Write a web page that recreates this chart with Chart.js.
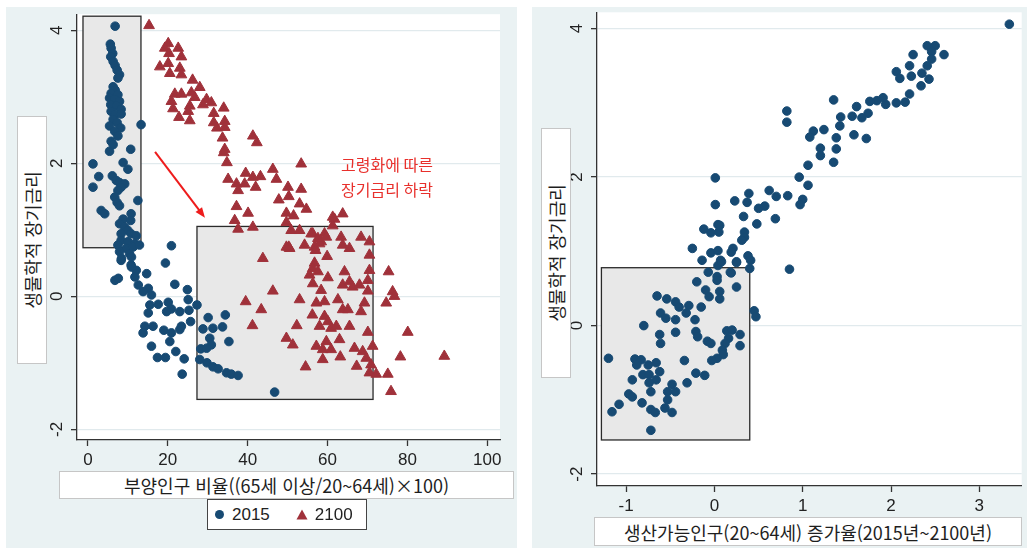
<!DOCTYPE html>
<html lang="ko">
<head>
  <meta charset="UTF-8">
  <title>부양인구 비율 · 생산가능인구 증가율과 생물학적 장기금리</title>
  <script src="https://cdn.jsdelivr.net/npm/chart.js"></script>
  <style>
    body { margin: 0; background: #fff; font-family: "Noto Sans CJK KR", "Noto Sans", sans-serif; }
    .page { position: relative; width: 1027px; height: 550px; overflow: hidden; }
    .panel { position: absolute; top: 7px; }
    .box { position: absolute; box-sizing: border-box; background: #fff; border: 1px solid #c6c6c6; color: #1e1e1e; font-size: 18px; }
    .xtitle { display: flex; align-items: center; justify-content: center; white-space: nowrap; }
    .ytitle span { position: absolute; left: 50%; top: 50%; white-space: nowrap; transform: translate(-50%, -50%) rotate(-90deg); }
    .legend { display: flex; align-items: center; border-color: #444; font-family: "Liberation Sans", Arial, sans-serif; font-size: 17px; color: #222; padding-left: 7px; }
    .legend .dot { width: 9px; height: 9px; border-radius: 50%; margin-right: 8px; }
    .legend .item { display: flex; align-items: center; margin-right: 26px; }
  </style>
</head>
<body>
<div class="page">
  <canvas class="panel" id="leftChart" width="511" height="541" style="left:6px"></canvas>
  <canvas class="panel" id="rightChart" width="495" height="541" style="left:532px"></canvas>

  <div class="box ytitle" style="left:17px; top:116px; width:30px; height:248px"><span>생물학적 장기금리</span></div>
  <div class="box xtitle" style="left:59px; top:471px; width:455px; height:28px">부양인구 비율((65세 이상/20~64세)×100)</div>
  <div class="box legend" id="legend" style="left:207px; top:499px; width:160px; height:31px"></div>

  <div class="box ytitle" style="left:541px; top:128px; width:30px; height:250px"><span>생물학적 장기금리</span></div>
  <div class="box xtitle" style="left:594px; top:517px; width:428px; height:29px">생산가능인구(20~64세) 증가율(2015년~2100년)</div>
</div>

<script>
  // tick labels
  const xTicksLeft = [0, 20, 40, 60, 80, 100];
  const xTicksRight = [-1, 0, 1, 2, 3];
  const yTicks = [-2, 0, 2, 4];
  const legendLabels = ['2015', '2100'];

  // left panel: dependency ratio (x) vs biological long-term rate (y), 2015
  const points2015 = [
    [6.8,4.06],[5.6,3.79],[5.8,3.73],[6.2,3.65],[5.7,3.60],[6.3,3.53],[6.8,3.47],[7.3,3.40],[7.9,3.33],[7.5,3.28],
    [6.3,3.15],[6.8,3.10],[5.8,3.05],[7.5,3.03],[5.4,2.98],[6.7,2.96],[7.9,2.93],[5.7,2.88],[7.1,2.86],[8.3,2.81],
    [5.8,2.78],[6.8,2.73],[8.3,2.74],[6.3,2.66],[7.3,2.61],[5.4,2.56],[8.2,2.53],[6.7,2.48],[7.5,2.41],[5.8,2.33],
    [6.3,2.28],[10.7,2.21],[5.4,2.18],[13.3,2.58],[8.8,2.01],[10,1.91],[1.25,1.99],[2.7,1.80],[1.25,1.64],[6.1,1.81],
    [7.1,1.74],[7.9,1.71],[9.2,1.69],[8.3,1.64],[7.5,1.59],[6.7,1.49],[12.5,1.44],[7.3,1.41],[7.9,1.36],[3.3,1.29],
    [4.2,1.24],[10.8,1.24],[8.8,1.16],[10.7,1.14],[7.9,1.09],[9.2,1.04],[10,0.99],[8.3,0.94],[10.8,0.94],[12.1,0.91],
    [8.3,0.84],[10,0.82],[11.7,0.79],[7.5,0.77],[9.6,0.72],[11.3,0.74],[12.9,0.77],[7.9,0.67],[10.4,0.64],[8.3,0.54],
    [10.8,0.47],[12.1,0.39],[20.9,0.76],[19.4,0.50],[8.4,0.57],[10.9,0.59],[10.9,0.44],[14.7,0.34],[6.75,0.24],[7.6,0.27],
    [11.75,0.29],[12.6,0.17],[15.1,0.12],[21.75,0.18],[13.8,0.07],[15.9,0.02],[24.9,0.10],[25.1,-0.05],[15.5,-0.13],[17.6,-0.12],
    [20.1,-0.09],[20.9,-0.19],[23,-0.23],[25.3,-0.21],[27.3,-0.13],[15.1,-0.25],[19.7,-0.23],[25.7,-0.38],[30.1,-0.32],[34.4,-0.28],
    [14.25,-0.45],[16.3,-0.45],[19,-0.51],[20.9,-0.55],[23,-0.50],[23.4,-0.45],[13.8,-0.55],[28.8,-0.49],[31.3,-0.48],[33.7,-0.46],
    [20.5,-0.68],[30.5,-0.63],[30.9,-0.73],[35.3,-0.68],[15.9,-0.75],[22,-0.83],[28.25,-0.79],[29.7,-0.78],[17.4,-0.92],[19.4,-0.92],
    [24.1,-0.94],[28,-0.95],[29.8,-1.0],[31.3,-1.06],[32.6,-1.09],[34.7,-1.15],[35.9,-1.17],[37.6,-1.19],[23.6,-1.17],[46.75,-1.44]
  ];

  // left panel, 2100
  const points2100 = [
    [15.3,4.07],[20.1,3.80],[19.25,3.73],[22.6,3.73],[20.3,3.65],[23.4,3.60],[20.1,3.50],[18,3.45],[23,3.43],[20.5,3.35],
    [23.4,3.33],[26.2,3.25],[28,3.14],[21.75,3.04],[23.4,3.04],[25.9,3.06],[26.75,2.99],[20.9,2.93],[29.7,2.96],[30.9,2.91],
    [28.8,2.88],[25.5,2.86],[21.3,2.82],[34,2.83],[25.1,2.78],[31.5,2.75],[22.8,2.69],[25.5,2.64],[34.25,2.63],[31.5,2.61],
    [32.3,2.53],[34.25,2.54],[33.7,2.38],[41.3,2.41],[42.3,2.31],[34.25,2.21],[34,2.16],[34.8,2.01],[53.4,1.99],[46.3,1.91],
    [35.1,1.76],[39.5,1.85],[41.3,1.79],[43.2,1.80],[47.2,1.76],[37.2,1.69],[39.25,1.69],[42,1.64],[37.6,1.59],[50.1,1.64],
    [53.4,1.61],[50.3,1.50],[47.8,1.45],[37.2,1.35],[53,1.39],[40.1,1.25],[49.7,1.25],[51.5,1.21],[54.7,1.31],[36.75,1.14],
    [61.3,1.19],[63.8,1.24],[61.75,1.16],[61.3,1.06],[59.25,0.94],[56.3,0.94],[68.4,0.89],[70.5,0.82],[63.4,0.89],[65.5,0.72],
    [58.4,0.82],[54.25,0.77],[50.5,0.72],[41.3,1.04],[37.6,1.01],[50.9,0.99],[53,0.99],[55.9,0.94],[57.6,0.87],[59.7,0.89],
    [50.3,0.74],[56.75,0.74],[58,0.79],[63.8,0.77],[43.8,0.57],[57,0.69],[59.9,0.60],[70.5,0.62],[56.75,0.50],[56.3,0.42],
    [57.6,0.37],[55.5,0.32],[60.1,0.28],[64.25,0.37],[70.5,0.39],[75.3,0.37],[56.3,0.19],[58.4,0.09],[63.8,0.17],[65.5,0.22],
    [66.3,0.14],[68,0.17],[70.1,0.24],[70.1,0.08],[76.3,0.07],[76.75,0.00],[46.3,0.08],[39.5,-0.08],[43.4,-0.20],[53,-0.05],
    [57.2,-0.10],[59.25,-0.08],[62.6,-0.05],[69.25,-0.10],[74.7,-0.10],[63.8,-0.20],[65.1,-0.20],[68.4,-0.23],[56.2,-0.28],[59.25,-0.30],
    [41.2,-0.44],[52.3,-0.44],[58,-0.45],[60.1,-0.38],[60.9,-0.48],[62.2,-0.45],[65.5,-0.45],[70.1,-0.54],[80.1,-0.54],[49.7,-0.63],
    [51.3,-0.73],[57.2,-0.75],[59.7,-0.68],[63,-0.65],[58.8,-0.80],[60.9,-0.80],[66.75,-0.78],[68.8,-0.83],[71.3,-0.75],[69.7,-0.93],
    [58.8,-0.95],[63.2,-0.91],[78.25,-0.91],[89.25,-0.90],[67.3,-1.05],[70.9,-1.03],[54.5,-1.06],[70.5,-1.15],[72.2,-1.17],[75.1,-1.17],
    [75.9,-1.43],[49.7,1.11],[49.7,0.74]
  ];

  // right panel: working-age population growth (x) vs biological long-term rate (y)
  const pointsGrowth = [
    [3.34,4.06],[2.41,3.77],[2.50,3.77],[2.46,3.69],[2.60,3.65],[2.25,3.65],[2.46,3.59],[2.41,3.50],[2.21,3.50],[2.06,3.42],
    [2.10,3.33],[2.23,3.36],[2.35,3.40],[2.43,3.32],[2.34,3.23],[2.21,3.12],[2.16,3.01],[2.06,3.00],[1.94,2.98],[1.91,3.07],
    [1.84,3.03],[1.76,3.02],[1.74,2.86],[1.61,2.95],[1.67,2.80],[1.56,2.82],[1.43,2.81],[1.42,2.69],[1.35,3.04],[1.58,2.57],
    [1.72,2.52],[1.38,2.53],[1.24,2.64],[1.12,2.62],[1.08,2.54],[1.38,2.38],[1.20,2.39],[1.20,2.29],[1.35,2.20],[1.06,2.16],
    [0.96,2.00],[1.06,1.89],[0.82,2.89],[0.82,2.74],[1.00,1.70],[0.97,1.63],[0.83,1.75],[0.70,1.74],[0.62,1.82],[0.57,1.61],
    [0.50,1.58],[0.69,1.44],[0.48,1.37],[0.39,1.78],[0.37,1.66],[0.23,1.68],[0.33,1.47],[0.34,1.26],[0.34,1.19],[0.21,1.04],
    [0.19,0.99],[0.25,0.85],[0.38,0.94],[0.41,0.88],[0.40,0.77],[0.85,0.76],[0.01,1.99],[0.01,1.63],[0.04,1.36],[-0.04,1.25],
    [-0.12,1.30],[-0.25,1.04],[-0.14,0.88],[-0.04,0.98],[0.04,1.01],[0.07,0.88],[0.04,0.81],[-0.07,0.72],[-0.20,0.59],[0.03,0.66],
    [0.19,0.71],[0.05,1.26],[0.06,1.35],[0.31,1.15],[0.08,0.86],[0.25,0.86],[0.18,0.72],[0.03,0.61],[0.25,0.52],[-0.10,0.48],
    [-0.06,0.39],[0.06,0.46],[0.06,0.36],[-0.65,0.40],[-0.54,0.36],[-0.44,0.32],[-0.40,0.25],[-0.29,0.27],[-0.32,0.17],[-0.15,0.25],
    [-0.61,0.17],[-0.55,0.10],[-0.44,0.08],[-0.22,0.08],[0.45,0.20],[0.47,0.12],[-0.80,0.00],[-0.44,-0.09],[-0.21,-0.08],[-0.19,-0.15],
    [-0.08,-0.21],[-0.04,-0.24],[0.14,-0.07],[0.20,-0.06],[0.29,-0.12],[0.16,-0.17],[0.12,-0.24],[0.29,-0.27],[-0.62,-0.12],[-0.61,-0.24],
    [0.09,-0.33],[0.10,-0.39],[0.03,-0.44],[-0.03,-0.47],[-1.20,-0.44],[-0.90,-0.45],[-0.83,-0.46],[-0.88,-0.53],[-0.75,-0.53],[-0.66,-0.50],
    [-0.34,-0.47],[-0.81,-0.66],[-0.74,-0.66],[-0.66,-0.73],[-0.62,-0.62],[-0.93,-0.73],[-0.74,-0.77],[-0.21,-0.64],[-0.11,-0.67],[-0.31,-0.77],
    [-0.48,-0.79],[-0.72,-0.89],[-0.97,-0.92],[-0.93,-0.96],[-0.53,-0.89],[-0.44,-0.89],[-0.53,-1.00],[-0.82,-1.04],[-1.08,-1.06],[-1.16,-1.16],
    [-0.72,-1.13],[-0.67,-1.17],[-0.56,-1.11],[-0.48,-1.17],[-0.72,-1.41]
  ];

  const NAVY = '#174a73';
  const MAROON = '#a0313a';
  const AXIS = '#333333';
  const GRID = '#e1eaed';
  const BG = '#eaf2f3';
  const TICK_FONT = '"Liberation Sans", Arial, sans-serif';

  const toXY = arr => arr.map(([x, y]) => ({ x, y }));

  // panel background, shaded boxes, arrow/notes and rotated y tick labels
  const panelPlugin = {
    id: 'panel',
    beforeDraw(chart) {
      const { ctx, chartArea: a, width, height } = chart;
      ctx.save();
      ctx.fillStyle = BG;
      ctx.fillRect(0, 0, width, height);
      ctx.fillStyle = '#fff';
      ctx.fillRect(a.left, a.top, a.right - a.left, a.bottom - a.top);
      ctx.restore();
    },
    beforeDatasetsDraw(chart, args, opts) {
      const { ctx, scales: { x, y } } = chart;
      (opts.boxes || []).forEach(([x0, x1, y0, y1]) => {
        const l = x.getPixelForValue(x0), r = x.getPixelForValue(x1);
        const t = y.getPixelForValue(y0), b = y.getPixelForValue(y1);
        ctx.save();
        ctx.fillStyle = '#e8e8e8';
        ctx.fillRect(l, t, r - l, b - t);
        ctx.strokeStyle = '#2a2a2a';
        ctx.lineWidth = 1.3;
        ctx.strokeRect(l, t, r - l, b - t);
        ctx.restore();
      });
    },
    afterDatasetsDraw(chart, args, opts) {
      const { ctx, scales: { x, y } } = chart;
      if (opts.arrow) {
        const [[ax0, ay0], [ax1, ay1]] = opts.arrow;
        const sx = x.getPixelForValue(ax0), sy = y.getPixelForValue(ay0);
        const ex = x.getPixelForValue(ax1), ey = y.getPixelForValue(ay1);
        const ang = Math.atan2(ey - sy, ex - sx);
        ctx.save();
        ctx.strokeStyle = '#ee1c1c';
        ctx.fillStyle = '#ee1c1c';
        ctx.lineWidth = 2;
        ctx.beginPath();
        ctx.moveTo(sx, sy);
        ctx.lineTo(ex - 8 * Math.cos(ang), ey - 8 * Math.sin(ang));
        ctx.stroke();
        ctx.beginPath();
        ctx.moveTo(ex, ey);
        ctx.lineTo(ex - 11 * Math.cos(ang - 0.38), ey - 11 * Math.sin(ang - 0.38));
        ctx.lineTo(ex - 11 * Math.cos(ang + 0.38), ey - 11 * Math.sin(ang + 0.38));
        ctx.closePath();
        ctx.fill();
        ctx.restore();
      }
      (opts.notes || []).forEach(n => {
        ctx.save();
        ctx.fillStyle = '#e8302c';
        ctx.font = '16px "Noto Sans CJK KR", sans-serif';
        ctx.textAlign = 'center';
        ctx.textBaseline = 'middle';
        ctx.fillText(n.text, x.getPixelForValue(n.x), y.getPixelForValue(n.y));
        ctx.restore();
      });
    },
    afterDraw(chart, args, opts) {
      const { ctx, scales: { y } } = chart;
      ctx.save();
      ctx.fillStyle = '#222';
      ctx.font = '17px ' + TICK_FONT;
      ctx.textAlign = 'center';
      ctx.textBaseline = 'middle';
      yTicks.forEach(v => {
        ctx.save();
        ctx.translate(opts.yLabelX, y.getPixelForValue(v));
        ctx.rotate(-Math.PI / 2);
        ctx.fillText(String(v), 0, 0);
        ctx.restore();
      });
      ctx.restore();
    }
  };

  function scatterChart(id, datasets, cfg) {
    return new Chart(document.getElementById(id), {
      type: 'scatter',
      data: { datasets },
      options: {
        responsive: false,
        animation: false,
        events: [],
        layout: { padding: cfg.padding },
        plugins: {
          legend: { display: false },
          tooltip: { enabled: false },
          panel: cfg.panel
        },
        scales: {
          x: {
            type: 'linear',
            min: cfg.xMin,
            max: cfg.xMax,
            afterBuildTicks: s => { s.ticks = cfg.xTicks.map(v => ({ value: v })); },
            afterFit: s => { s.height = cfg.xHeight; },
            grid: { drawOnChartArea: false, tickLength: 6, tickColor: AXIS, tickWidth: 1.3 },
            border: { color: AXIS, width: 1.3 },
            ticks: {
              autoSkip: false, maxRotation: 0, minRotation: 0, padding: 4,
              color: '#222', font: { family: TICK_FONT, size: 17 }
            }
          },
          y: {
            type: 'linear',
            min: cfg.yMin,
            max: cfg.yMax,
            afterBuildTicks: s => { s.ticks = yTicks.map(v => ({ value: v })); },
            afterFit: s => { s.width = cfg.yWidth; },
            grid: { color: GRID, lineWidth: 1.3, tickLength: 6, tickColor: AXIS, tickWidth: 1.3 },
            border: { color: AXIS, width: 1.3 },
            ticks: { display: false }
          }
        }
      },
      plugins: [panelPlugin]
    });
  }

  const circleStyle = { pointStyle: 'circle', pointRadius: 4.3, borderWidth: 1, backgroundColor: NAVY, borderColor: NAVY };
  const triangleStyle = { pointStyle: 'triangle', pointRadius: 6.2, borderWidth: 1, backgroundColor: MAROON, borderColor: MAROON };

  scatterChart('leftChart', [
    { label: legendLabels[0], data: toXY(points2015), ...circleStyle },
    { label: legendLabels[1], data: toXY(points2100), ...triangleStyle }
  ], {
    padding: { left: 0, top: 2, right: 17, bottom: 0 },
    xMin: -2.75, xMax: 103.2, yMin: -2.16, yMax: 4.24,
    xTicks: xTicksLeft, xHeight: 108, yWidth: 71,
    panel: {
      yLabelX: 51,
      boxes: [[-1.25, 13.27, 4.21, 0.73], [27.3, 71.4, 1.05, -1.55]],
      arrow: [[16.8, 2.17], [29.3, 1.18]],
      notes: [
        { text: '고령화에 따른', x: 74.9, y: 1.97 },
        { text: '장기금리 하락', x: 74.9, y: 1.60 }
      ]
    }
  });

  scatterChart('rightChart', [
    { label: '', data: toXY(pointsGrowth), ...circleStyle }
  ], {
    padding: { left: 0, top: 2, right: 0, bottom: 0 },
    xMin: -1.33, xMax: 3.48, yMin: -2.16, yMax: 4.22,
    xTicks: xTicksRight, xHeight: 62, yWidth: 65,
    panel: {
      yLabelX: 45,
      boxes: [[-1.28, 0.40, 0.78, -1.54]]
    }
  });

  // legend under the left panel
  const legend = document.getElementById('legend');
  const markers = [
    `<span class="dot" style="background:${NAVY}"></span>`,
    `<svg width="12" height="11" style="margin-right:7px"><polygon points="6,0.5 11.5,10.5 0.5,10.5" fill="${MAROON}"/></svg>`
  ];
  legendLabels.forEach((lab, i) => {
    const item = document.createElement('span');
    item.className = 'item';
    item.innerHTML = markers[i] + '<span>' + lab + '</span>';
    legend.appendChild(item);
  });
</script>
</body>
</html>
